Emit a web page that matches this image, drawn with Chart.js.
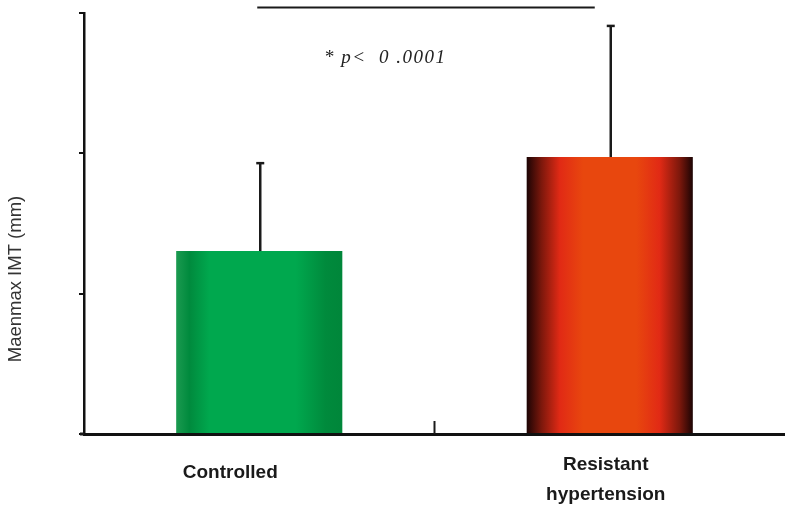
<!DOCTYPE html>
<html>
<head>
<meta charset="utf-8">
<script src="https://cdn.jsdelivr.net/npm/chart.js@4"></script>
<style>
  html, body { margin: 0; padding: 0; background: #fff; }
  #wrap { width: 785px; height: 510px; }
</style>
</head>
<body>
<div id="wrap"><canvas id="imtChart" width="785" height="510"></canvas></div>
<script>
// data (y axis has no labels, ticks every 0.5)
const categories = [["Controlled"], ["Resistant", "hypertension"]];
const meanIMT = [0.652, 0.987];
const sdIMT = [0.313, 0.467];
const yTicks = [0, 0.5, 1.0, 1.5];
const yTitle = "Maenmax IMT (mm)";
const pText = "* p<  0 .0001";

const BAR_PCT = 0.474;

// shading across the bar, dark edges like the original
function barGradient(ctx, idx, left, right) {
  const g = ctx.createLinearGradient(left, 0, right, 0);
  if (idx === 0) {
    g.addColorStop(0, "#1b9a50");
    g.addColorStop(0.08, "#008a3d");
    g.addColorStop(0.2, "#00a84e");
    g.addColorStop(0.72, "#00a84e");
    g.addColorStop(0.9, "#008a3c");
    g.addColorStop(1, "#00863a");
  } else {
    g.addColorStop(0, "#1c0404");
    g.addColorStop(0.09, "#7d180c");
    g.addColorStop(0.2, "#e12a15");
    g.addColorStop(0.34, "#e8470e");
    g.addColorStop(0.66, "#e8470e");
    g.addColorStop(0.8, "#e12a15");
    g.addColorStop(0.92, "#7d180c");
    g.addColorStop(1, "#1c0404");
  }
  return g;
}

const extrasPlugin = {
  id: "extras",
  afterDatasetsDraw(chart) {
    const ctx = chart.ctx;
    const xs = chart.scales.x;
    const ys = chart.scales.y;
    ctx.save();
    ctx.strokeStyle = "#1a1a1a";
    ctx.lineCap = "butt";

    // error bars (upper only)
    meanIMT.forEach((m, i) => {
      const cx = xs.getPixelForValue(i) + 1;
      const yTop = ys.getPixelForValue(m + sdIMT[i]);
      const yBase = ys.getPixelForValue(m);
      ctx.lineWidth = 2.5;
      ctx.beginPath();
      ctx.moveTo(cx, yBase);
      ctx.lineTo(cx, yTop);
      ctx.stroke();
      ctx.beginPath();
      ctx.moveTo(cx - 4, yTop);
      ctx.lineTo(cx + 4, yTop);
      ctx.stroke();
    });

    // middle tick on x axis, pointing up
    const mid = (xs.getPixelForValue(0) + xs.getPixelForValue(1)) / 2;
    ctx.lineWidth = 2;
    ctx.beginPath();
    ctx.moveTo(mid, xs.top);
    ctx.lineTo(mid, xs.top - 13);
    ctx.stroke();

    // extend x axis a bit left of the y axis
    ctx.lineWidth = 3;
    ctx.beginPath();
    ctx.moveTo(xs.left - 4, xs.top);
    ctx.lineTo(xs.left, xs.top);
    ctx.stroke();

    // significance bar + text
    const topY = ys.getPixelForValue(yTicks[yTicks.length - 1]);
    ctx.lineWidth = 2;
    ctx.beginPath();
    ctx.moveTo(xs.getPixelForValue(0) - 2, topY - 5.5);
    ctx.lineTo(xs.getPixelForValue(1) - 15, topY - 5.5);
    ctx.stroke();

    ctx.fillStyle = "#222";
    ctx.font = "italic 19px 'Liberation Serif', 'DejaVu Serif', serif";
    ctx.textAlign = "left";
    ctx.textBaseline = "middle";
    ctx.letterSpacing = "1.5px";
    ctx.fillText(pText, 324, ys.getPixelForValue(1.34));
    ctx.letterSpacing = "0px";

    // category labels
    ctx.fillStyle = "#1a1a1a";
    ctx.font = "bold 19px 'Liberation Sans', Arial, sans-serif";
    ctx.textAlign = "center";
    categories.forEach((lab, i) => {
      const cx = xs.getPixelForValue(i) + (i === 0 ? -29 : -4);
      const y0 = lab.length === 1 ? xs.top + 39 : xs.top + 31;
      lab.forEach((line, k) => ctx.fillText(line, cx, y0 + k * 30));
    });

    // y title
    ctx.save();
    ctx.translate(16, 279);
    ctx.rotate(-Math.PI / 2);
    ctx.fillStyle = "#333";
    ctx.font = "18.5px 'Liberation Sans', Arial, sans-serif";
    ctx.fillText(yTitle, 0, 0);
    ctx.restore();

    ctx.restore();
  }
};

const chart = new Chart(document.getElementById("imtChart"), {
  type: "bar",
  data: {
    labels: categories.map(c => c.join(" ")),
    datasets: [{
      data: meanIMT,
      backgroundColor: (c) => {
        const ch = c.chart;
        if (!ch.chartArea || !ch.scales.x) return c.dataIndex === 0 ? "#00a84e" : "#e8470e";
        const xs = ch.scales.x;
        const half = xs.width / categories.length * BAR_PCT / 2;
        const cx = xs.getPixelForValue(c.dataIndex);
        return barGradient(ch.ctx, c.dataIndex, cx - half, cx + half);
      },
      borderWidth: 0,
      categoryPercentage: 1,
      barPercentage: BAR_PCT
    }]
  },
  options: {
    responsive: false,
    animation: false,
    layout: { padding: { top: 13, right: 0, left: 0, bottom: 0 } },
    plugins: { legend: { display: false }, tooltip: { enabled: false }, title: { display: false } },
    scales: {
      x: {
        grid: { display: false },
        border: { display: true, color: "#111", width: 3 },
        ticks: { display: false },
        afterFit: (s) => { s.height = 76; }
      },
      y: {
        min: yTicks[0],
        max: yTicks[yTicks.length - 1],
        afterBuildTicks: (s) => { s.ticks = yTicks.map(v => ({ value: v })); },
        grid: { display: true, drawOnChartArea: false, drawTicks: true, tickLength: 5, color: "#111", lineWidth: 2 },
        border: { display: true, color: "#111", width: 2.5 },
        ticks: { display: false },
        afterFit: (s) => { s.width = 84; }
      }
    }
  },
  plugins: [extrasPlugin]
});
</script>
</body>
</html>
